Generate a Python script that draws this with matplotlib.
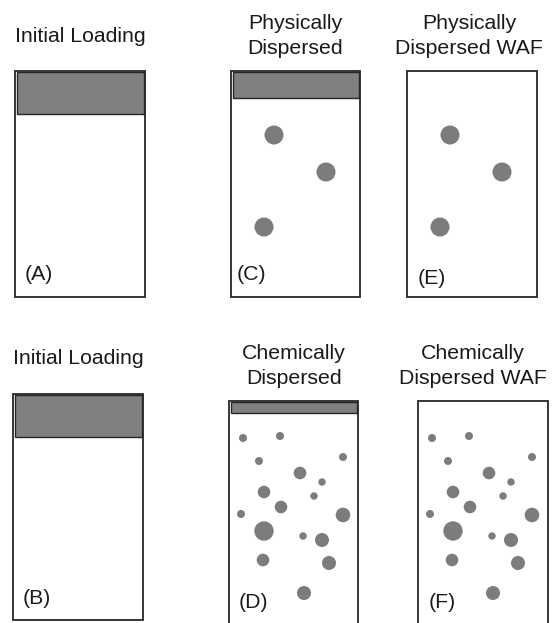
import matplotlib.pyplot as plt
from matplotlib.patches import Circle, Rectangle

plt.rcParams["font.family"] = ["Liberation Sans", "DejaVu Sans"]

titles = [
    "Initial Loading",
    "Physically\nDispersed",
    "Physically\nDispersed WAF",
    "Initial Loading",
    "Chemically\nDispersed",
    "Chemically\nDispersed WAF",
]
panel_labels = ["(A)", "(C)", "(E)", "(B)", "(D)", "(F)"]
droplet_sets = [None, "physical", "physical", None, "chemical", "chemical"]

# droplets: offsets (px) from the top-left corner of each jar, and radius
physical_x = [43, 95, 33]
physical_y = [64, 101, 156]
physical_r = [9.5, 9.5, 9.5]

chemical_x = [14, 51, 30, 114, 71, 93, 35, 85, 52, 12, 114, 35, 74, 93, 34, 100, 75]
chemical_y = [37, 35, 60, 56, 72, 81, 91, 95, 106, 113, 114, 130, 135, 139, 159, 162, 192]
chemical_r = [4, 4, 4, 4, 6.3, 3.7, 6.3, 3.7, 6.3, 4, 7.3, 9.7, 3.7, 7, 6.3, 7, 7]

droplets = {
    "physical": (physical_x, physical_y, physical_r),
    "chemical": (chemical_x, chemical_y, chemical_r),
}

# jar layout in figure pixels: left, top, right, bottom, oil layer bottom
jars = [
    (15, 71, 145, 297, 114),
    (231, 71, 360, 297, 98),
    (407, 71, 537, 297, None),
    (13, 394, 143, 620, 437),
    (229, 401, 358, 640, 413),
    (418, 401, 548, 640, None),
]
title_pos = [(15, 36, "left"), (295, 36, "center"), (469, 36, "center"),
             (13, 359, "left"), (294, 366, "center"), (473, 366, "center")]
label_pos = [(25, 275), (237, 275), (418, 278), (23, 598), (239, 602), (429, 602)]

edge = "#262626"
oil = "#808080"
drop = "#7c7c7c"
ink = "#1a1a1a"

fig = plt.figure(figsize=(5.58, 6.23), dpi=100)
ax = fig.add_axes([0, 0, 1, 1])
ax.set_xlim(0, 558)
ax.set_ylim(623, 0)
ax.set_aspect("equal")
ax.axis("off")

for i, (left, top, right, bottom, band) in enumerate(jars):
    ax.add_patch(Rectangle((left, top), right - left, bottom - top,
                           facecolor="white", edgecolor=edge, lw=1.3))
    if band is not None:
        ax.add_patch(Rectangle((left + 1.5, top + 1), right - left - 3, band - top - 1,
                               facecolor=oil, edgecolor=edge, lw=1.0))
    key = droplet_sets[i]
    if key is not None:
        xs, ys, rs = droplets[key]
        for x, y, r in zip(xs, ys, rs):
            ax.add_patch(Circle((left + x, top + y), r, facecolor=drop, edgecolor="none"))

    tx, ty, ha = title_pos[i]
    ax.text(tx, ty, titles[i], ha=ha, va="center", fontsize=15.3,
            color=ink, linespacing=1.45)
    lx, ly = label_pos[i]
    ax.text(lx, ly, panel_labels[i], ha="left", va="center", fontsize=15.3, color=ink)

fig.savefig("out.png", dpi=100, facecolor="white")
